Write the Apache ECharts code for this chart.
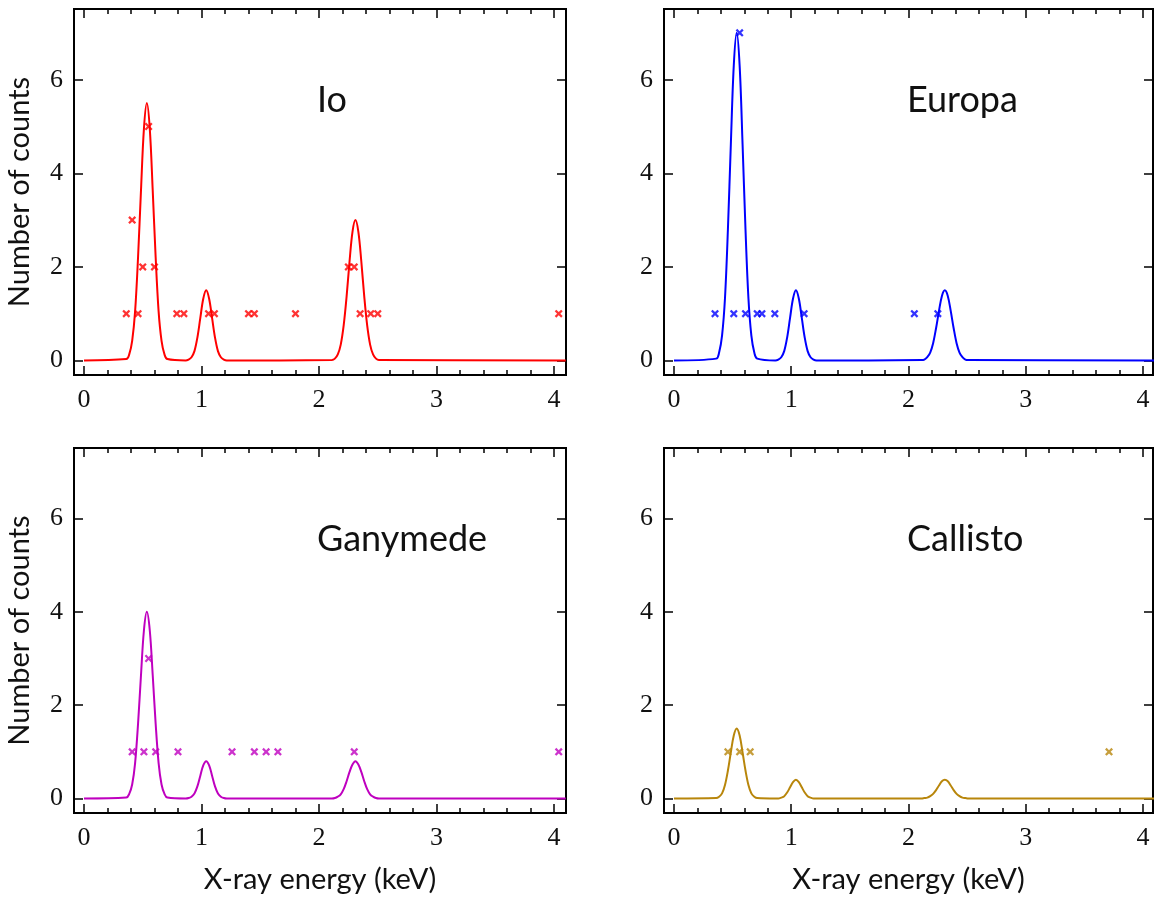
<!DOCTYPE html>
<html>
<head>
<meta charset="utf-8">
<script src="https://cdn.jsdelivr.net/npm/echarts@6/dist/echarts.min.js"></script>
<style>
    html, body { margin: 0; padding: 0; background: #fff; }
    #chart { width: 1154px; height: 901px; }
</style>
</head>
<body>
<div id="chart"></div>
<script>
    // tick labels
    var energyTicks = [0, 1, 2, 3, 4];
    var energyMinorTicks = [0.2, 0.4, 0.6, 0.8, 1.2, 1.4, 1.6, 1.8, 2.2, 2.4, 2.6, 2.8, 3.2, 3.4, 3.6, 3.8];
    var countTicks = [0, 2, 4, 6];

    // model curve (keV)
    var curveEnergy = [0,
        0.36, 0.385, 0.41, 0.435, 0.46, 0.485, 0.51, 0.535, 0.56, 0.585, 0.61, 0.635, 0.66, 0.685, 0.71,
        0.865, 0.89, 0.915, 0.94, 0.965, 0.99, 1.015, 1.04, 1.065, 1.09, 1.115, 1.14, 1.165, 1.19, 1.215,
        2.11, 2.135, 2.16, 2.185, 2.21, 2.235, 2.26, 2.285, 2.31, 2.335, 2.36, 2.385, 2.41, 2.435, 2.46, 2.485, 2.51,
        4.1];
    var ioCurve = [0,
        0.03, 0.13, 0.42, 1.05, 2.2, 3.63, 4.95, 5.5, 4.95, 3.63, 2.2, 1.05, 0.42, 0.13, 0.03,
        0.0, 0.02, 0.07, 0.2, 0.49, 0.91, 1.32, 1.5, 1.32, 0.91, 0.49, 0.2, 0.07, 0.02, 0.0,
        0.01, 0.04, 0.13, 0.34, 0.75, 1.37, 2.12, 2.75, 3.0, 2.75, 2.12, 1.37, 0.75, 0.34, 0.13, 0.04, 0.01,
        0];
    var europaCurve = [0,
        0.04, 0.17, 0.53, 1.33, 2.8, 4.62, 6.3, 7.0, 6.3, 4.62, 2.8, 1.33, 0.53, 0.17, 0.04,
        0.0, 0.02, 0.07, 0.2, 0.49, 0.91, 1.32, 1.5, 1.32, 0.91, 0.49, 0.2, 0.07, 0.02, 0.0,
        0.01, 0.02, 0.07, 0.17, 0.37, 0.69, 1.06, 1.38, 1.5, 1.38, 1.06, 0.69, 0.37, 0.17, 0.07, 0.02, 0.01,
        0];
    var ganymedeCurve = [0,
        0.02, 0.1, 0.3, 0.76, 1.6, 2.64, 3.6, 4.0, 3.6, 2.64, 1.6, 0.76, 0.3, 0.1, 0.02,
        0.0, 0.01, 0.04, 0.11, 0.26, 0.49, 0.71, 0.8, 0.71, 0.49, 0.26, 0.11, 0.04, 0.01, 0.0,
        0.0, 0.01, 0.04, 0.09, 0.2, 0.37, 0.57, 0.73, 0.8, 0.73, 0.57, 0.37, 0.2, 0.09, 0.04, 0.01, 0.0,
        0];
    var callistoCurve = [0,
        0.01, 0.04, 0.11, 0.29, 0.6, 0.99, 1.35, 1.5, 1.35, 0.99, 0.6, 0.29, 0.11, 0.04, 0.01,
        0.0, 0.0, 0.02, 0.05, 0.13, 0.24, 0.35, 0.4, 0.35, 0.24, 0.13, 0.05, 0.02, 0.0, 0.0,
        0.0, 0.01, 0.02, 0.05, 0.1, 0.18, 0.28, 0.37, 0.4, 0.37, 0.28, 0.18, 0.1, 0.05, 0.02, 0.01, 0.0,
        0];

    // detected events
    var ioEnergy = [0.36, 0.41, 0.46, 0.50, 0.55, 0.60, 0.79, 0.85, 1.06, 1.11, 1.40, 1.45, 1.80, 2.25, 2.30, 2.35, 2.44, 2.50, 4.04];
    var ioCounts = [1, 3, 1, 2, 5, 2, 1, 1, 1, 1, 1, 1, 1, 2, 2, 1, 1, 1, 1];
    var europaEnergy = [0.35, 0.51, 0.56, 0.61, 0.71, 0.75, 0.86, 1.11, 2.05, 2.25];
    var europaCounts = [1, 1, 7, 1, 1, 1, 1, 1, 1, 1];
    var ganymedeEnergy = [0.41, 0.51, 0.55, 0.61, 0.80, 1.26, 1.45, 1.55, 1.65, 2.30, 4.04];
    var ganymedeCounts = [1, 1, 3, 1, 1, 1, 1, 1, 1, 1, 1];
    var callistoEnergy = [0.46, 0.56, 0.65, 3.71];
    var callistoCounts = [1, 1, 1, 1];

    var panels = [
        {name: 'Io', color: '#ff0000', curve: ioCurve, energy: ioEnergy, counts: ioCounts,
            left: 74, top: 9, width: 492, height: 366, xMax: 4.102, yName: true, xName: false},
        {name: 'Europa', color: '#0000ff', curve: europaCurve, energy: europaEnergy, counts: europaCounts,
            left: 664, top: 9, width: 489, height: 366, xMax: 4.085, yName: false, xName: false},
        {name: 'Ganymede', color: '#bf00bf', curve: ganymedeCurve, energy: ganymedeEnergy, counts: ganymedeCounts,
            left: 74, top: 448, width: 492, height: 365, xMax: 4.102, yName: true, xName: true},
        {name: 'Callisto', color: '#b8860b', curve: callistoCurve, energy: callistoEnergy, counts: callistoCounts,
            left: 664, top: 448, width: 489, height: 365, xMax: 4.085, yName: false, xName: true}
    ];

    var crossPath = 'path://M2,0L5,3L8,0L10,2L7,5L10,8L8,10L5,7L2,10L0,8L3,5L0,2Z';
    var tickStyle = {color: '#000', width: 1.5};
    var labelStyle = {color: '#111', fontFamily: 'Liberation Serif', fontSize: 26};
    var nameStyle = {color: '#111', fontFamily: 'Lato', fontSize: 29};

    var grids = [], xAxes = [], yAxes = [], series = [], titles = [];

    panels.forEach(function (p, g) {
        grids.push({
            left: p.left, top: p.top, width: p.width, height: p.height,
            show: true, borderColor: '#000', borderWidth: 2, backgroundColor: 'transparent',
            containLabel: false, outerBoundsMode: 'none'
        });
        var base = {
            gridIndex: g, type: 'value', min: -0.085, max: p.xMax,
            axisLine: {show: false, onZero: false}, splitLine: {show: false}
        };
        xAxes.push(Object.assign({}, base, {
            position: 'bottom',
            axisTick: {inside: true, length: 9, customValues: energyTicks, lineStyle: tickStyle},
            axisLabel: Object.assign({customValues: energyTicks, margin: 12}, labelStyle),
            name: p.xName ? 'X-ray energy (keV)' : '',
            nameLocation: 'middle', nameGap: 52, nameTextStyle: nameStyle
        }));
        xAxes.push(Object.assign({}, base, {
            position: 'bottom',
            axisTick: {inside: true, length: 5, customValues: energyMinorTicks, lineStyle: tickStyle},
            axisLabel: {show: false}
        }));
        xAxes.push(Object.assign({}, base, {
            position: 'top',
            axisTick: {inside: true, length: 9, customValues: energyTicks, lineStyle: tickStyle},
            axisLabel: {show: false}
        }));
        xAxes.push(Object.assign({}, base, {
            position: 'top',
            axisTick: {inside: true, length: 5, customValues: energyMinorTicks, lineStyle: tickStyle},
            axisLabel: {show: false}
        }));
        var ybase = {
            gridIndex: g, type: 'value', min: -0.31, max: 7.51,
            axisLine: {show: false, onZero: false}, splitLine: {show: false}
        };
        yAxes.push(Object.assign({}, ybase, {
            position: 'left',
            axisTick: {inside: true, length: 9, customValues: countTicks, lineStyle: tickStyle},
            axisLabel: Object.assign({customValues: countTicks, margin: 11}, labelStyle),
            name: p.yName ? 'Number of counts' : '',
            nameLocation: 'middle', nameGap: 40, nameRotate: 90, nameTextStyle: nameStyle
        }));
        yAxes.push(Object.assign({}, ybase, {
            position: 'right',
            axisTick: {inside: true, length: 9, customValues: countTicks, lineStyle: tickStyle},
            axisLabel: {show: false}
        }));

        series.push({
            type: 'line', name: p.name,
            xAxisIndex: g * 4, yAxisIndex: g * 2,
            data: p.curve.map(function (v, i) { return [curveEnergy[i], v]; }),
            showSymbol: false, smooth: 0.35, clip: true,
            lineStyle: {color: p.color, width: 2}, z: 2
        });
        series.push({
            type: 'scatter', name: p.name + ' events',
            xAxisIndex: g * 4, yAxisIndex: g * 2,
            data: p.energy.map(function (e, i) { return [e, p.counts[i]]; }),
            symbol: crossPath, symbolSize: 8,
            itemStyle: {color: p.color}, z: 3
        });

        titles.push({
            text: p.name,
            left: p.left + 238, top: p.top + 68,
            textStyle: {fontFamily: 'Lato', fontSize: 36, fontWeight: 'normal', color: '#111'}
        });
    });

    var myChart = echarts.init(document.getElementById('chart'));
    myChart.setOption({
        animation: false,
        backgroundColor: '#fff',
        title: titles,
        grid: grids,
        xAxis: xAxes,
        yAxis: yAxes,
        series: series
    });
</script>
</body>
</html>
